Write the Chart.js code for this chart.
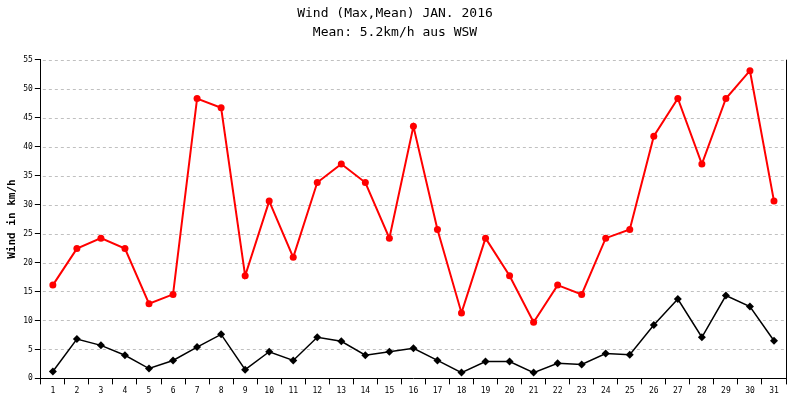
<!DOCTYPE html>
<html>
<head>
<meta charset="utf-8">
<script src="https://cdn.jsdelivr.net/npm/chart.js@4"></script>
<style>
body { margin: 0; background: #fff; }
</style>
</head>
<body>
<canvas id="c" width="800" height="400"></canvas>
<script>
const tage = ["1","2","3","4","5","6","7","8","9","10","11","12","13","14","15","16","17","18","19","20","21","22","23","24","25","26","27","28","29","30","31"];
const windMax = [16.1,22.4,24.2,22.4,12.9,14.5,48.3,46.7,17.7,30.6,20.9,33.8,37.0,33.8,24.2,43.5,25.7,11.3,24.2,17.7,9.7,16.1,14.5,24.2,25.7,41.8,48.3,37.0,48.3,53.1,30.6];
const windMean = [1.2,6.8,5.7,4.0,1.7,3.1,5.4,7.6,1.5,4.6,3.1,7.1,6.4,4.0,4.6,5.2,3.1,1.0,2.9,2.9,1.0,2.6,2.4,4.3,4.1,9.2,13.7,7.1,14.3,12.4,6.5];

// rechte Rahmenlinie + gestrichelte Gitterlinien
const rahmen = {
    id: "rahmen",
    beforeDatasetsDraw(chart) {
        const s = chart.scales.y, a = chart.chartArea, ctx = chart.ctx;
        ctx.save();
        ctx.strokeStyle = "#c0c0c0";
        ctx.lineWidth = 1;
        ctx.setLineDash([3, 3]);
        s.ticks.forEach(t => {
            if (t.value === 0) return;
            const y = Math.round(s.getPixelForValue(t.value)) + 0.5;
            ctx.beginPath();
            ctx.moveTo(a.left + 2, y);
            ctx.lineTo(a.right, y);
            ctx.stroke();
        });
        ctx.setLineDash([]);
        ctx.strokeStyle = "#000";
        ctx.beginPath();
        ctx.moveTo(Math.round(a.right) + 0.5, a.top);
        ctx.lineTo(Math.round(a.right) + 0.5, a.bottom);
        ctx.stroke();
        ctx.restore();
    }
};

new Chart(document.getElementById("c"), {
    type: "line",
    data: {
        labels: tage,
        datasets: [
            {
                label: "Max",
                data: windMax,
                borderColor: "#ff0000",
                backgroundColor: "#ff0000",
                borderWidth: 2,
                pointRadius: 3.5,
                pointBorderWidth: 0,
                pointStyle: "circle",
                tension: 0
            },
            {
                label: "Mean",
                data: windMean,
                borderColor: "#000",
                backgroundColor: "#000",
                borderWidth: 1.5,
                pointRadius: 4,
                pointBorderWidth: 0,
                pointStyle: "rectRot",
                tension: 0
            }
        ]
    },
    options: {
        responsive: false,
        animation: false,
        devicePixelRatio: 1,
        layout: { padding: { left: 4, right: 14, top: 0, bottom: 2 } },
        plugins: {
            legend: { display: false },
            tooltip: { enabled: false },
            title: {
                display: true,
                text: ["Wind (Max,Mean) JAN. 2016", "Mean: 5.2km/h aus WSW"],
                color: "#000",
                font: { family: "DejaVu Sans Mono", size: 13, weight: "normal", lineHeight: 1.45 },
                padding: { top: 4, bottom: 18 }
            }
        },
        scales: {
            x: {
                offset: true,
                grid: { display: true, drawOnChartArea: false, color: "#000", tickLength: 6, offset: true },
                border: { color: "#000", width: 1 },
                ticks: { color: "#000", font: { family: "DejaVu Sans Mono", size: 8 }, maxRotation: 0, autoSkip: false, padding: 2 }
            },
            y: {
                min: 0,
                max: 55,
                grid: { color: "rgba(0,0,0,0)", tickLength: 6, tickColor: "#000" },
                border: { color: "#000", width: 1 },
                ticks: { stepSize: 5, color: "#000", font: { family: "DejaVu Sans Mono", size: 8 }, padding: 2 },
                title: {
                    display: true,
                    text: "Wind in km/h",
                    color: "#000",
                    font: { family: "DejaVu Sans Mono", size: 11, weight: "bold" },
                    padding: 2
                }
            }
        }
    },
    plugins: [rahmen]
});
</script>
</body>
</html>
